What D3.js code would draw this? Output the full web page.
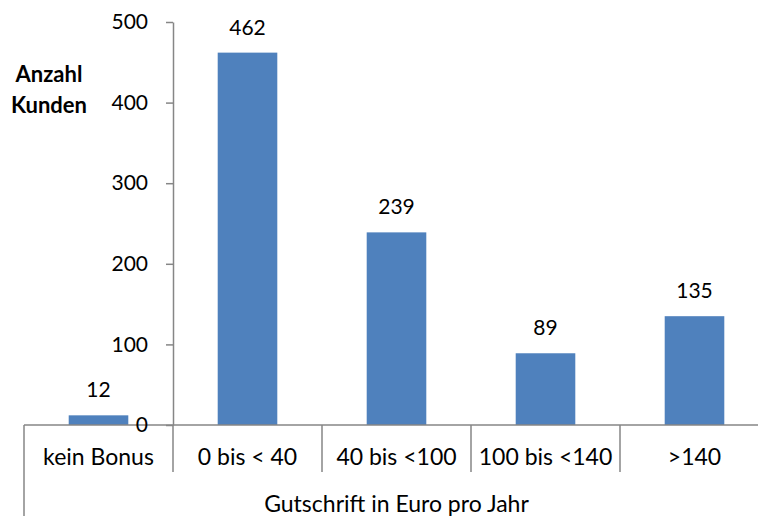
<!DOCTYPE html>
<html>
<head>
<meta charset="utf-8">
<script src="https://cdn.jsdelivr.net/npm/d3@7"></script>
<style>
  html, body { margin: 0; padding: 0; background: #fff; }
  svg { display: block; }
  text { font-family: Lato, "Liberation Sans", sans-serif; fill: #000; }
</style>
</head>
<body>
<script>
// Kunden nach jährlicher Gutschrift
const categories = ["kein Bonus", "0 bis < 40", "40 bis <100", "100 bis <140", ">140"];
const customers = [12, 462, 239, 89, 135];
const yTicks = [0, 100, 200, 300, 400, 500];
const yTitle = ["Anzahl", "Kunden"];
const xTitle = "Gutschrift in Euro pro Jahr";

const W = 758, H = 516;
const axisColor = "#868686";
const barColor = "#4F81BD";
const numSize = 21;
const textSize = 23;

const svg = d3.select("body").append("svg")
  .attr("width", W).attr("height", H);

const x = d3.scaleBand()
  .domain(categories)
  .range([24, 769])
  .paddingInner(0.6)
  .paddingOuter(0.3);

const y = d3.scaleLinear()
  .domain([0, 500])
  .range([425, 22]);

const step = x.step();
const half = (step - x.bandwidth()) / 2;
const rows = categories.map((c, i) => ({ c, v: customers[i] }));

// Bars
svg.append("g").selectAll("rect")
  .data(rows)
  .join("rect")
  .attr("x", d => x(d.c))
  .attr("y", d => y(d.v))
  .attr("width", x.bandwidth())
  .attr("height", d => y(0) - y(d.v))
  .attr("fill", barColor);

// Value labels
svg.append("g").selectAll("text")
  .data(rows)
  .join("text")
  .attr("x", d => x(d.c) + x.bandwidth() / 2)
  .attr("y", d => y(d.v) - 18)
  .attr("text-anchor", "middle")
  .attr("font-size", numSize)
  .text(d => d.v);

// Category axis: baseline, group separators, outer left line
const cat = svg.append("g");
cat.append("line")
  .attr("x1", 24).attr("x2", W)
  .attr("y1", y(0)).attr("y2", y(0))
  .attr("stroke", axisColor).attr("stroke-width", 1.5);
cat.selectAll("line.sep")
  .data(categories.slice(1))
  .join("line")
  .attr("class", "sep")
  .attr("x1", d => x(d) - half).attr("x2", d => x(d) - half)
  .attr("y1", y(0)).attr("y2", 472)
  .attr("stroke", axisColor).attr("stroke-width", 1.5);
cat.append("line")
  .attr("x1", 24).attr("x2", 24)
  .attr("y1", y(0)).attr("y2", H)
  .attr("stroke", axisColor).attr("stroke-width", 1.5);
cat.selectAll("text")
  .data(categories)
  .join("text")
  .attr("x", d => x(d) + x.bandwidth() / 2)
  .attr("y", 465)
  .attr("text-anchor", "middle")
  .attr("font-size", textSize)
  .text(d => d);
cat.append("text")
  .attr("x", (24 + 769) / 2)
  .attr("y", 512)
  .attr("text-anchor", "middle")
  .attr("font-size", textSize)
  .text(xTitle);

// Value axis
const yAxis = svg.append("g")
  .attr("transform", `translate(${x(categories[1]) - half},0)`)
  .call(d3.axisLeft(y).tickValues(yTicks).tickSize(7).tickSizeOuter(0).tickPadding(18));
yAxis.select(".domain").attr("stroke", axisColor).attr("stroke-width", 1.5);
yAxis.selectAll(".tick line").attr("stroke", axisColor).attr("stroke-width", 1.5);
yAxis.selectAll(".tick text")
  .attr("font-size", numSize)
  .attr("font-family", "Lato, 'Liberation Sans', sans-serif")
  .attr("fill", "#000");

// Value axis title
svg.append("g").selectAll("text")
  .data(yTitle)
  .join("text")
  .attr("x", 49)
  .attr("y", (d, i) => 82 + i * 31)
  .attr("text-anchor", "middle")
  .attr("font-weight", "bold")
  .attr("font-size", 22)
  .text(d => d);
</script>
</body>
</html>
